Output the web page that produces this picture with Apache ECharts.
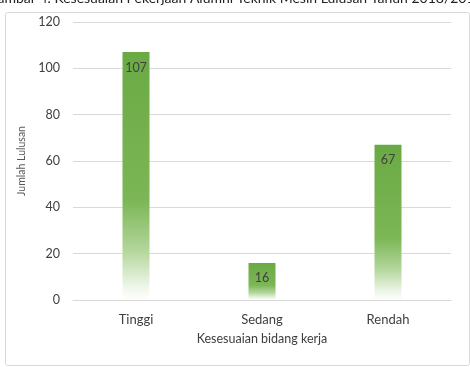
<!DOCTYPE html>
<html>
<head>
<meta charset="utf-8">
<script src="https://cdn.jsdelivr.net/npm/echarts@6/dist/echarts.min.js"></script>
<style>
  html, body { margin: 0; padding: 0; background: #fff; }
  #chart { width: 470px; height: 367px; }
</style>
</head>
<body>
<div id="chart"></div>
<script>
// data
const categories = ["Tinggi", "Sedang", "Rendah"];
const lulusan = [107, 16, 67];
const yTicks = [0, 20, 40, 60, 80, 100, 120];

const chart = echarts.init(document.getElementById("chart"));
const font = "Lato, 'Open Sans', sans-serif";

// green fading to white at the bottom of each bar
const barFill = new echarts.graphic.LinearGradient(0, 0, 0, 1, [
  { offset: 0, color: "#6aaa44" },
  { offset: 0.6, color: "#7cb656" },
  { offset: 0.8, color: "#b3d69b" },
  { offset: 0.95, color: "#eff7ea" },
  { offset: 1, color: "#ffffff" },
]);

const option = {
  animation: false,
  textStyle: { fontFamily: font },
  graphic: [
    {
      type: "text",
      left: "center",
      top: -9,
      style: {
        text: "Gambar 4. Kesesuaian Pekerjaan Alumni Teknik Mesin Lulusan Tahun 2018/2019",
        font: "14px " + font,
        fill: "#222",
      },
    },
    {
      type: "rect",
      left: 3,
      top: 10,
      shape: { width: 464, height: 353, r: 2 },
      style: { fill: "none", stroke: "#d9d9d9", lineWidth: 1 },
    },
  ],
  grid: { left: 73, right: 19, top: 22, bottom: 67 },
  xAxis: {
    type: "category",
    data: categories,
    name: "Kesesuaian bidang kerja",
    nameLocation: "middle",
    nameGap: 32,
    nameTextStyle: { color: "#404040", fontSize: 12.5, fontFamily: font },
    axisLine: { lineStyle: { color: "#d9d9d9" } },
    axisTick: { show: false },
    axisLabel: { color: "#404040", fontSize: 13, margin: 13 },
  },
  yAxis: {
    type: "value",
    min: yTicks[0],
    max: yTicks[yTicks.length - 1],
    interval: 20,
    name: "Jumlah Lulusan",
    nameLocation: "middle",
    nameGap: 43,
    nameTextStyle: { color: "#595959", fontSize: 10.5, fontFamily: font },
    axisLine: { show: false },
    axisTick: { show: false },
    axisLabel: { color: "#404040", fontSize: 12.5, margin: 13 },
    splitLine: { lineStyle: { color: "#d9d9d9" } },
  },
  series: [
    {
      type: "bar",
      data: lulusan,
      barWidth: 27,
      itemStyle: { color: barFill },
      label: {
        show: true,
        position: "insideTop",
        distance: 9,
        color: "#404040",
        fontSize: 12.5,
      },
    },
  ],
};
chart.setOption(option);
</script>
</body>
</html>
